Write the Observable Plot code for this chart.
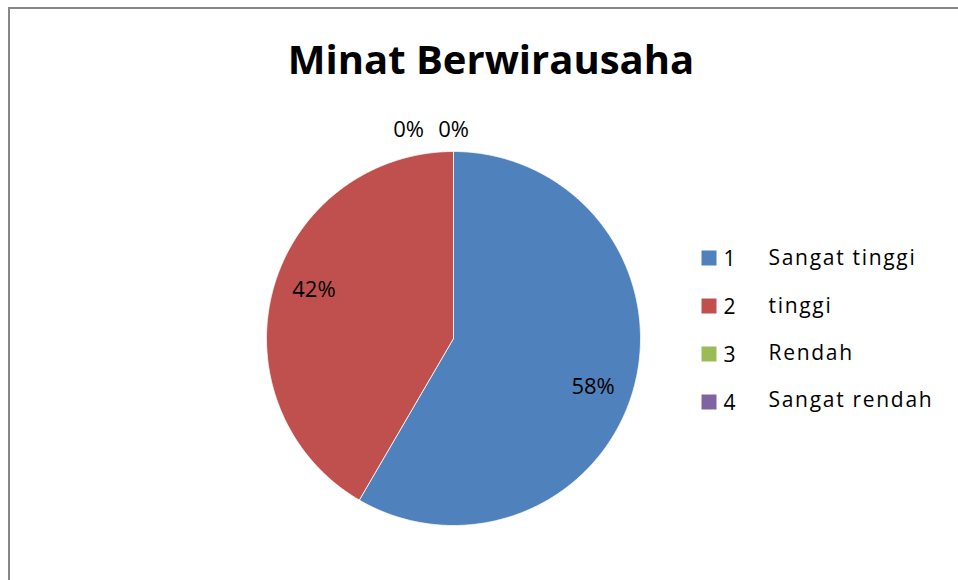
<!DOCTYPE html>
<html>
<head>
<meta charset="utf-8">
<script src="https://cdn.jsdelivr.net/npm/d3@7"></script>
<script src="https://cdn.jsdelivr.net/npm/@observablehq/plot@0.6"></script>
<style>
  html, body { margin: 0; padding: 0; background: #fff; }
  #wrap { position: relative; width: 958px; height: 580px; overflow: hidden; background: #fff; }
  #frame { position: absolute; left: 8px; top: 7px; width: 960px; height: 600px;
           border-top: 2px solid #878787; border-left: 2px solid #878787; box-sizing: border-box; }
  #chart { position: absolute; left: 0; top: 0; }
  g[font-size="21.01"] text { letter-spacing: 1.7px; }
</style>
</head>
<body>
<div id="wrap"><div id="frame"></div><div id="chart"></div></div>
<script>
// ---- data ----
const title = "Minat Berwirausaha";
const codes = ["1", "2", "3", "4"];
const categories = ["Sangat tinggi", "tinggi", "Rendah", "Sangat rendah"];
const percents = [58.4, 41.6, 0, 0];
const colors = ["#4F81BD", "#C0504D", "#9BBB59", "#8064A2"];

// ---- layout ----
const W = 958, H = 580;
const CX = 453, CY = 338, R = 187;
const labelShift = 0.07;

const rows = categories.map((c, i) => ({cat: c, code: codes[i], value: percents[i]}));
const arcs = d3.pie().sort(null).value(d => d.value).startAngle(0).endAngle(2 * Math.PI)(rows);

// slice outlines (polygon points) derived from pie angles
const slicePts = arcs.filter(a => a.data.value > 0).flatMap(a => {
  const n = Math.max(2, Math.ceil((a.endAngle - a.startAngle) / 0.005));
  const out = [{cat: a.data.cat, x: CX, y: CY}];
  for (let k = 0; k <= n; k++) {
    const t = a.startAngle + (a.endAngle - a.startAngle) * k / n;
    out.push({cat: a.data.cat, x: CX + R * Math.sin(t), y: CY - R * Math.cos(t)});
  }
  out.push({cat: a.data.cat, x: CX, y: CY});
  return out;
});

// data labels
const zeroIdx = arcs.filter(a => a.data.value === 0).map(a => a.index);
const labels = arcs.map(a => {
  const text = Math.round(a.data.value) + "%";
  if (a.data.value > 0) {
    const m = (a.startAngle + a.endAngle) / 2 + labelShift;
    return {text, x: CX + 0.79 * R * Math.sin(m), y: CY - 0.79 * R * Math.cos(m)};
  } else {
    const j = zeroIdx.indexOf(a.index), n = zeroIdx.length;
    const t = a.startAngle;
    return {text, x: CX + (R + 22) * Math.sin(t) - (n - 1 - j) * 45, y: CY - (R + 22) * Math.cos(t)};
  }
});

const plot = Plot.plot({
  width: W, height: H, margin: 0,
  style: {fontFamily: "'Open Sans', sans-serif", background: "transparent", color: "#000"},
  x: {domain: [0, W], range: [0, W], axis: null},
  y: {domain: [0, H], range: [0, H], axis: null},
  color: {domain: categories, range: colors},
  marks: [
    Plot.text([title], {x: () => 490.5, y: () => 60.5, text: d => d, fontSize: 40, fontWeight: "bold", fill: "#000"}),
    Plot.line(slicePts, {x: "x", y: "y", z: "cat", fill: "cat", stroke: "#ffffff", strokeWidth: 1, strokeOpacity: 0.8, curve: "linear"}),
    Plot.text(labels, {x: "x", y: "y", text: "text", fontSize: 22, fill: "#000"}),
    // legend
    Plot.dot(rows, {x: () => 708.5, y: (d, i) => 257.5 + i * 48, symbol: "square", r: 8.46, fill: "cat", stroke: null}),
    Plot.text(rows, {x: () => 723, y: (d, i) => 258.5 + i * 48, text: "code", textAnchor: "start", fontSize: 21, fill: "#000"}),
    Plot.text(rows, {x: () => 768, y: (d, i) => 258 + i * 47.3, text: "cat", textAnchor: "start", fontSize: 21.01, fill: "#000"})
  ]
});
document.getElementById("chart").appendChild(plot);
</script>
</body>
</html>
